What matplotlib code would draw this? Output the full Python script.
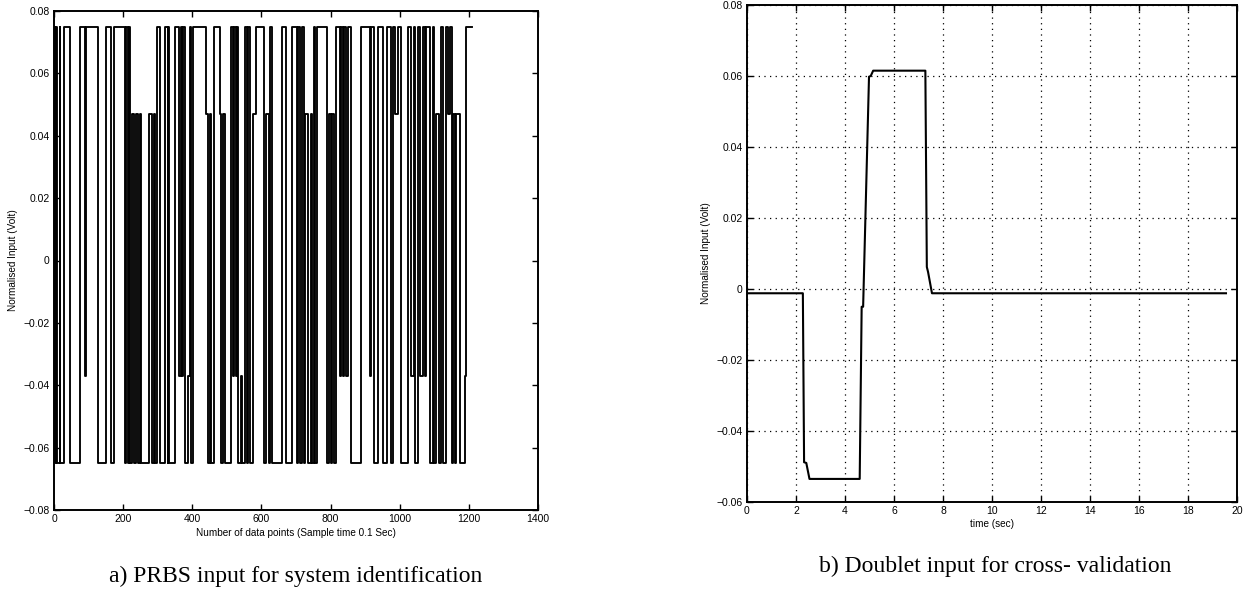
import matplotlib
matplotlib.use("Agg")
import matplotlib.pyplot as plt

# ---------------- data ----------------
H, L, M, N = 0.075, -0.065, 0.047, -0.037
prbs_switch = [0, 4, 6, 10, 16, 18, 28, 45, 76, 89, 92, 126, 150, 165, 174, 205, 208, 214, 218, 221,
               226, 232, 236, 244, 248, 253, 274, 284, 288, 293, 298, 306, 320, 329, 331, 334, 349,
               362, 366, 370, 373, 378, 388, 392, 397, 401, 441, 445, 450, 455, 462, 479, 484, 488,
               494, 513, 518, 522, 526, 530, 532, 540, 545, 552, 558, 562, 566, 576, 585, 607, 614,
               621, 626, 632, 660, 672, 689, 703, 706, 713, 718, 722, 725, 735, 742, 747, 752, 756,
               762, 790, 795, 800, 805, 810, 816, 826, 830, 836, 840, 846, 850, 858, 887, 913, 918,
               927, 937, 952, 962, 976, 981, 986, 995, 1005, 1024, 1034, 1040, 1044, 1053, 1060,
               1066, 1073, 1077, 1087, 1095, 1100, 1106, 1113, 1120, 1126, 1135, 1140, 1145, 1150,
               1155, 1160, 1164, 1174, 1188, 1193]
prbs_level = [H, L, H, L, H, L, H, L, H, N, H, L, H, L, H, L, H, L, H, L,
              M, L, M, L, M, L, M, L, M, L, H, L, H, L, H, L, H,
              N, H, N, H, L, N, H, L, H, M, L, M, L, H, M, L, M,
              L, H, N, H, N, H, L, N, L, H, L, H, L, M, H, L, M,
              L, H, L, H, L, H, L, H, L, H, L, M, L, M, L, H, L,
              H, L, M, L, M, L, H, N, H, N, H, N, H, L, H, N, H,
              L, H, L, H, L, H, M, H, L, H, N, H, L, H, N,
              H, N, H, L, H, L, M, L, H, L, H, M, H, L,
              M, L, M, L, N, H]
prbs_end = 1208

doublet_t = [0, 2.28, 2.33, 2.42, 2.55, 4.60, 4.68, 4.74, 4.98, 5.05, 5.15, 7.28, 7.34, 7.39, 7.55, 19.55]
doublet_v = [-0.0012, -0.0012, -0.0488, -0.0490, -0.0535, -0.0535, -0.0050, -0.0050, 0.0598, 0.0600,
             0.0615, 0.0615, 0.0062, 0.0048, -0.0012, -0.0012]

left_xticks = [0, 200, 400, 600, 800, 1000, 1200, 1400]
left_yticks = [-0.08, -0.06, -0.04, -0.02, 0, 0.02, 0.04, 0.06, 0.08]
left_ylabels = ['\u22120.08', '\u22120.06', '\u22120.04', '\u22120.02', '0', '0.02', '0.04', '0.06', '0.08']
right_xticks = [0, 2, 4, 6, 8, 10, 12, 14, 16, 18, 20]
right_yticks = [-0.06, -0.04, -0.02, 0, 0.02, 0.04, 0.06, 0.08]
right_ylabels = ['\u22120.06', '\u22120.04', '\u22120.02', '0', '0.02', '0.04', '0.06', '0.08']

# ---------------- figure ----------------
W, Hpx = 1248, 593
fig = plt.figure(figsize=(W / 100, Hpx / 100), dpi=100)
plt.rcParams['font.family'] = ['Liberation Sans', 'DejaVu Sans']

def fx(px):
    return px / W

def fy(py):
    return 1 - py / Hpx

axL = fig.add_axes([fx(54), fy(510), fx(538 - 54), (510 - 11) / Hpx])
axR = fig.add_axes([fx(747), fy(502), fx(1237 - 747), (502 - 5) / Hpx])

tick_fs = 7.5
lab_fs = 7.2

# left PRBS
xs = prbs_switch + [prbs_end]
ys = prbs_level + [prbs_level[-1]]
axL.plot(xs, ys, drawstyle='steps-post', color='black', lw=1.35)
axL.set_xlim(0, 1400)
axL.set_ylim(-0.08, 0.08)
axL.set_xticks(left_xticks)
axL.set_xticklabels([str(v) for v in left_xticks])
axL.set_yticks(left_yticks)
axL.set_yticklabels(left_ylabels)
axL.set_xlabel('Number of data points (Sample time 0.1 Sec)', fontsize=lab_fs, labelpad=3)
axL.set_ylabel('Normalised Input (Volt)', fontsize=lab_fs, labelpad=4)

# right doublet
axR.plot(doublet_t, doublet_v, color='black', lw=1.5)
axR.set_xlim(0, 20)
axR.set_ylim(-0.06, 0.08)
axR.set_xticks(right_xticks)
axR.set_xticklabels([str(v) for v in right_xticks])
axR.set_yticks(right_yticks)
axR.set_yticklabels(right_ylabels)
axR.grid(True, color='black', linestyle=(0, (1, 3.5)), linewidth=0.9)
axR.set_xlabel('time (sec)', fontsize=lab_fs, labelpad=2)
axR.set_ylabel('Normalised Input (Volt)', fontsize=lab_fs, labelpad=4)

for ax in (axL, axR):
    ax.tick_params(direction='in', length=4, width=1, labelsize=tick_fs,
                   top=True, right=True, pad=3)
    for s in ax.spines.values():
        s.set_linewidth(1.4)
        s.set_color('black')

fig.text(fx(296), fy(576), 'a) PRBS input for system identification',
         ha='center', va='center', fontsize=17, family=['Liberation Serif', 'DejaVu Serif'])
fig.text(fx(995), fy(566), 'b) Doublet input for cross- validation',
         ha='center', va='center', fontsize=17, family=['Liberation Serif', 'DejaVu Serif'])

fig.savefig('out.png', dpi=100, facecolor='white')
